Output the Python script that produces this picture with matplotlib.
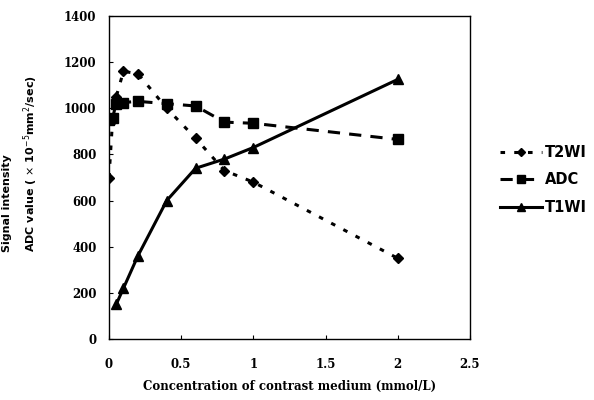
import matplotlib.pyplot as plt

# concentration of contrast medium (mmol/L)
conc = [0, 0.025, 0.05, 0.1, 0.2, 0.4, 0.6, 0.8, 1, 2]
t2wi = [700, 950, 1050, 1160, 1150, 1000, 870, 730, 680, 350]
adc = [950, 960, 1020, 1025, 1030, 1020, 1010, 940, 935, 865]
conc_t1 = [0.05, 0.1, 0.2, 0.4, 0.6, 0.8, 1, 2]
t1wi = [150, 220, 360, 600, 740, 780, 830, 1125]

xticks = [0, 0.5, 1, 1.5, 2, 2.5]
xticklabels = ['0', '0.5', '1', '1.5', '2', '2.5']
yticks = [0, 200, 400, 600, 800, 1000, 1200, 1400]

fig = plt.figure(figsize=(5.94, 4), dpi=100)
ax = fig.add_axes([0.1835, 0.1525, 0.6075, 0.8075])

ax.plot(conc, t2wi, color='black', linestyle=(0, (1.5, 3)), linewidth=2.2,
        marker='D', markersize=5.5, label='T2WI')
ax.plot(conc, adc, color='black', linestyle=(0, (4, 3)), linewidth=2.2,
        marker='s', markersize=7, label='ADC')
ax.plot(conc_t1, t1wi, color='black', linestyle='-', linewidth=2.2,
        marker='^', markersize=7, label='T1WI')

ax.set_xlim(0, 2.5)
ax.set_ylim(0, 1400)
ax.set_xticks(xticks)
ax.set_xticklabels(xticklabels)
ax.set_yticks(yticks)
ax.tick_params(direction='in', length=3, width=0.8)
ax.tick_params(axis='y', pad=9)
ax.tick_params(axis='x', pad=14)
for lab in ax.get_xticklabels() + ax.get_yticklabels():
    lab.set_fontweight('bold')
    lab.set_fontsize(8.5)
    lab.set_family('DejaVu Serif')
for sp in ax.spines.values():
    sp.set_linewidth(1.0)

ax.set_xlabel('Concentration of contrast medium (mmol/L)', family='DejaVu Serif',
              fontweight='bold', fontsize=8.5, labelpad=6)

fig.text(0.035, 0.59, 'Signal intensity\n'
         r'ADC value ( $\times$ 10$^{-5}$mm$^{2}$/sec)',
         rotation=90, ha='center', va='center', multialignment='left',
         fontsize=8, fontweight='bold', linespacing=1.7)

leg = fig.legend(loc='center left', bbox_to_anchor=(0.832, 0.55), frameon=False,
                 fontsize=10.5, handlelength=2.9, labelspacing=0.85,
                 handletextpad=0.2, borderaxespad=0, markerscale=0.8)
for t in leg.get_texts():
    t.set_fontweight('bold')

fig.savefig('out.png', dpi=100)
